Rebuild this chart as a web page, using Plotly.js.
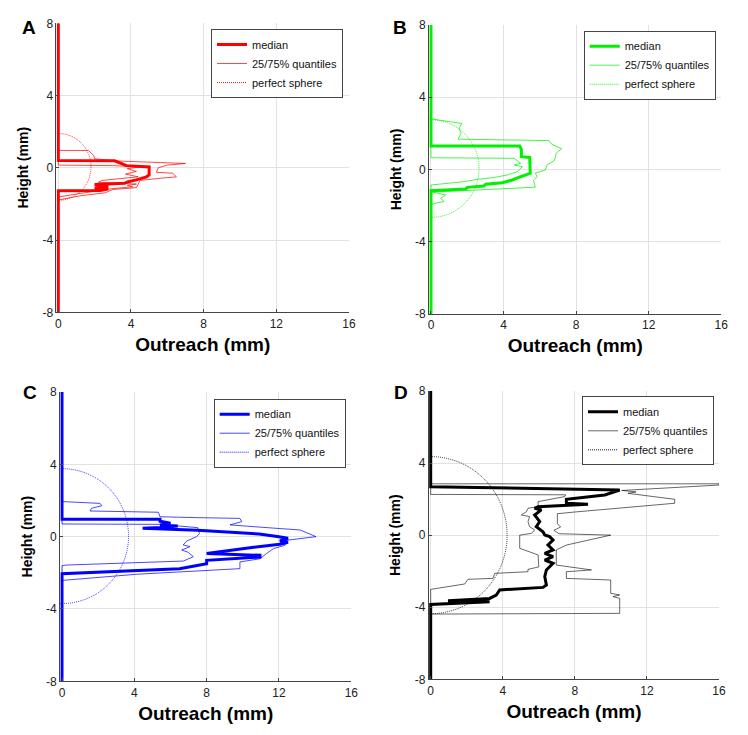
<!DOCTYPE html>
<html>
<head>
<meta charset="utf-8">
<script src="https://cdn.plot.ly/plotly-3.0.1.min.js"></script>
<style>html,body{margin:0;padding:0;background:#fff;}#chart{width:748px;height:735px;}</style>
</head>
<body>
<div id="chart"></div>
<script>
// ---------- data (outreach x, height y) ----------
const xTicks = [0, 4, 8, 12, 16];
const yTicks = [-8, -4, 0, 4, 8];
const panelLetters = ['A', 'B', 'C', 'D'];
const legendNames = ['median', '25/75% quantiles', 'perfect sphere'];

// Panel A (red)
const medA_x = [0, 0, 2.3, 2.75, 2.0, 2.75, 2.0, 3.65, 3.85, 4.3, 4.85, 5.0, 5.0, 4.75, 3.75, 3.1, 0, 0];
const medA_y = [-8, -1.27, -1.26, -1.18, -1.12, -1.05, -0.93, -0.86, -0.77, -0.67, -0.5, -0.4, 0.05, 0.06, 0.12, 0.39, 0.4, 8];
const q75A_x = [0, 0, 1.2, 2.6, 3.0, 4.3, 4.4, 4.5, 5.6, 6.5, 6.3, 5.4, 5.5, 6.0, 7.0, 5.0, 3.2, 2.6, 2.0, 1.95, 1.75, 1.65, 0, 0];
const q75A_y = [-8, -1.78, -1.55, -1.38, -1.2, -1.1, -0.9, -0.7, -0.58, -0.5, -0.3, -0.25, 0.0, 0.15, 0.24, 0.3, 0.38, 0.44, 0.5, 0.68, 0.85, 0.96, 0.96, 8];
const q25A_x = [0, 0, 1.0, 2.2, 3.0, 4.1, 3.8, 4.3, 2.2, 2.4, 3.6, 4.4, 3.7, 4.3, 3.8, 4.5, 3.0, 0, 0];
const q25A_y = [-8, -1.62, -1.45, -1.25, -1.15, -1.05, -0.97, -0.9, -0.8, -0.7, -0.6, -0.5, -0.35, -0.2, -0.05, 0.05, 0.12, 0.15, 8];

// Panel B (green)
const medB_x = [0, 0, 1.91, 2.0, 2.92, 3.01, 3.93, 4.49, 4.94, 5.47, 5.44, 4.98, 4.98, 4.89, 0, 0];
const medB_y = [-8, -1.17, -1.08, -0.99, -0.91, -0.82, -0.73, -0.58, -0.4, -0.21, 0.67, 0.71, 1.11, 1.3, 1.3, 8];
const q75B_x = [0, 0, 0.3, 0.72, 0.53, 0.8, 0.1, 5.75, 5.65, 5.85, 5.75, 6.3, 6.4, 6.8, 6.85, 6.9, 7.2, 6.95, 6.65, 6.5, 1.5, 1.65, 1.55, 1.7, 0, 0];
const q75B_y = [-8, -1.95, -1.85, -1.78, -1.6, -1.41, -1.25, -0.98, -0.6, -0.4, -0.2, -0.03, 0.25, 0.5, 0.65, 0.9, 1.15, 1.25, 1.4, 1.6, 1.68, 2.0, 2.3, 2.55, 2.8, 8];
const q25B_x = [0, 0, 1.67, 2.6, 3.5, 4.21, 4.76, 5.04, 4.58, 4.94, 4.58, 0, 0];
const q25B_y = [-8, -0.86, -0.69, -0.54, -0.44, -0.3, -0.12, 0.16, 0.25, 0.34, 0.62, 0.65, 8];

// Panel C (blue)
const medC_x = [0, 0, 6.5, 8.0, 8.0, 10.95, 10.95, 8.0, 10.5, 12.05, 12.5, 12.05, 12.5, 12.0, 10.9, 7.5, 4.46, 5.42, 6.4, 5.42, 6.0, 5.42, 5.42, 0, 0];
const medC_y = [-8, -2.05, -1.77, -1.5, -1.31, -1.13, -1.03, -0.93, -0.6, -0.42, -0.31, -0.24, -0.09, 0.0, 0.15, 0.35, 0.46, 0.5, 0.59, 0.65, 0.74, 0.85, 0.96, 0.96, 8];
const q75C_x = [0, 0, 4.13, 9.84, 9.84, 10.95, 11.3, 11.7, 12.33, 12.42, 14.05, 13.16, 12.0, 9.94, 9.29, 9.94, 9.84, 7.5, 5.42, 5.33, 1.55, 1.64, 2.2, 2.1, 0, 0];
const q75C_y = [-8, -2.42, -2.08, -1.77, -1.4, -1.22, -0.94, -0.66, -0.48, -0.2, 0.0, 0.37, 0.45, 0.59, 0.65, 0.83, 1.01, 1.05, 1.1, 1.35, 1.42, 1.57, 1.71, 1.84, 1.94, 8];
const q25C_x = [0, 0, 0.26, 6.71, 7.26, 6.99, 6.62, 7.08, 6.7, 6.9, 7.45, 7.6, 7.5, 5.4, 0, 0];
const q25C_y = [-8, -1.6, -1.57, -1.35, -1.11, -0.87, -0.74, -0.55, -0.46, -0.24, 0.0, 0.17, 0.5, 0.68, 0.7, 8];

// Panel D (black)
const medD_x = [0, 0, 3.27, 0.96, 3.27, 3.64, 3.83, 6.23, 6.42, 6.33, 6.42, 6.79, 6.33, 6.79, 6.33, 6.79, 6.51, 6.79, 6.6, 6.33, 6.23, 5.86, 6.05, 5.77, 6.14, 5.77, 5.96, 7.62, 8.73, 7.53, 7.53, 8.55, 9.66, 10.49, 0, 0];
const medD_y = [-8, -3.85, -3.69, -3.64, -3.51, -3.32, -3.04, -2.9, -2.77, -2.3, -1.93, -1.56, -1.38, -1.19, -1.01, -0.82, -0.55, -0.27, -0.08, 0.01, 0.19, 0.47, 0.75, 1.12, 1.4, 1.49, 1.58, 1.66, 1.71, 1.77, 1.99, 2.1, 2.23, 2.5, 2.69, 8];
const q75D_x = [0, 0, 10.49, 10.49, 10.12, 10.49, 9.99, 9.99, 7.53, 7.53, 8.92, 6.97, 6.97, 7.3, 7.53, 9.99, 7.12, 6.84, 7.21, 7.03, 7.03, 7.95, 13.54, 13.54, 10.95, 11.4, 10.6, 16, 16, 0, 0];
const q75D_y = [-8, -4.38, -4.34, -3.51, -3.41, -3.32, -3.23, -2.49, -2.4, -2.03, -1.93, -1.66, -0.82, -0.65, -0.55, 0.0, 0.08, 0.27, 0.45, 0.64, 1.19, 1.28, 1.77, 1.99, 2.32, 2.4, 2.48, 2.78, 2.85, 2.85, 8];
const q25D_x = [0, 0, 1.89, 2.07, 3.46, 3.55, 5.4, 5.4, 6.0, 5.96, 5.96, 4.94, 4.94, 5.6, 5.77, 5.49, 5.4, 5.49, 5.03, 5.31, 5.4, 5.96, 5.96, 7.44, 7.49, 0, 0];
const q25D_y = [-8, -3.01, -2.71, -2.45, -2.4, -2.12, -2.03, -1.9, -1.76, -1.34, -1.1, -0.73, 0.0, 0.1, 0.29, 0.47, 0.75, 1.03, 1.12, 1.3, 1.49, 1.58, 1.86, 2.14, 2.24, 2.26, 8];

// perfect sphere: centre height and radii (mm) per panel
const sphereCentre = [0.05, 0.05, 0.03, 0.0];
const sphereRx = [1.8, 2.65, 3.68, 4.24];
const sphereRy = [1.85, 2.7, 3.73, 4.36];

const panelColors = ['#ff0000', '#00f000', '#0000ff', '#000000'];

// ---------- layout geometry ----------
const FONT = 'Liberation Sans, Arial, Helvetica, sans-serif';
const W = 748, H = 735;
const boxes = [ // plot area in pixels: left (outreach 0), right, top, bottom
  [58.3, 349.0, 23.3, 312.3],
  [431.0, 721.3, 25.0, 314.0],
  [62.0, 351.3, 392.0, 681.3],
  [430.7, 719.0, 391.0, 679.3]
];
const X_PAD = 0.1; // small extension left of 0 so the thick 0-line is not cut in half
const legendBoxes = [ // right, top of legend box in px
  [343, 29], [715.7, 30.7], [345.7, 398.7], [714, 396.3]
];
const letterPos = [[29, 27.5], [400, 27.5], [29.5, 392], [400.5, 392.5]];

const med = [[medA_x, medA_y], [medB_x, medB_y], [medC_x, medC_y], [medD_x, medD_y]];
const q75 = [[q75A_x, q75A_y], [q75B_x, q75B_y], [q75C_x, q75C_y], [q75D_x, q75D_y]];
const q25 = [[q25A_x, q25A_y], [q25B_x, q25B_y], [q25C_x, q25C_y], [q25D_x, q25D_y]];

const traces = [];
const layout = {
  width: W, height: H,
  margin: {l: 0, r: 0, t: 0, b: 0},
  paper_bgcolor: '#ffffff', plot_bgcolor: '#ffffff',
  showlegend: true,
  shapes: [], annotations: [],
  font: {family: FONT, color: '#111'}
};

for (let i = 0; i < 4; i++) {
  const sfx = i === 0 ? '' : String(i + 1);
  const xa = 'x' + sfx, ya = 'y' + sfx;
  const lg = 'legend' + sfx;
  const col = panelColors[i];
  const b = boxes[i];
  const pxPerMm = (b[1] - b[0]) / 16;
  const thin = i === 3 ? 0.8 : 0.9;

  traces.push({x: q75[i][0], y: q75[i][1], xaxis: xa, yaxis: ya, type: 'scatter', mode: 'lines',
    line: {color: col, width: thin}, opacity: i === 3 ? 0.75 : 0.8, name: legendNames[1], showlegend: false, legend: lg, hoverinfo: 'skip'});
  traces.push({x: q25[i][0], y: q25[i][1], xaxis: xa, yaxis: ya, type: 'scatter', mode: 'lines',
    line: {color: col, width: thin}, opacity: i === 3 ? 0.75 : 0.8, name: legendNames[1], legend: lg, legendrank: 2, hoverinfo: 'skip'});
  traces.push({x: med[i][0], y: med[i][1], xaxis: xa, yaxis: ya, type: 'scatter', mode: 'lines',
    line: {color: col, width: 3}, name: legendNames[0], legend: lg, legendrank: 1, hoverinfo: 'skip'});
  traces.push({x: [null], y: [null], xaxis: xa, yaxis: ya, type: 'scatter', mode: 'lines',
    line: {color: col, width: 0.9, dash: '1px,1px'}, name: legendNames[2], legend: lg, legendrank: 3, hoverinfo: 'skip'});

  layout['xaxis' + sfx] = {
    domain: [(b[0] - X_PAD * pxPerMm) / W, b[1] / W], anchor: ya, range: [-X_PAD, 16],
    tickmode: 'array', tickvals: xTicks, ticktext: xTicks.map(String),
    showgrid: true, gridcolor: '#e2e2e2', gridwidth: 1, zeroline: false,
    showline: true, linecolor: '#444', linewidth: 1,
    ticks: 'inside', ticklen: 3, tickcolor: '#444',
    tickfont: {family: FONT, size: 12, color: '#222'},
    title: {text: 'Outreach (mm)', font: {family: FONT, size: 19, color: '#000', weight: 'bold'}, standoff: 7},
    fixedrange: true
  };
  layout['yaxis' + sfx] = {
    domain: [1 - b[3] / H, 1 - b[2] / H], anchor: xa, range: [-8, 8],
    tickmode: 'array', tickvals: yTicks, ticktext: yTicks.map(String),
    showgrid: true, gridcolor: '#e2e2e2', gridwidth: 1, zeroline: false,
    showline: true, linecolor: '#444', linewidth: 1,
    ticks: 'inside', ticklen: 3, tickcolor: '#444',
    tickfont: {family: FONT, size: 12, color: '#222'},
    title: {text: 'Height (mm)', font: {family: FONT, size: 14, color: '#000', weight: 'bold'}, standoff: 10},
    fixedrange: true
  };
  layout[lg] = {
    x: legendBoxes[i][0] / W, xanchor: 'right', xref: 'paper',
    y: 1 - legendBoxes[i][1] / H, yanchor: 'top', yref: 'paper',
    bgcolor: '#ffffff', bordercolor: '#444', borderwidth: 1,
    font: {family: FONT, size: 11, color: '#111'},
    tracegroupgap: 0, itemclick: false, itemdoubleclick: false
  };
  // perfect sphere outline (clipped to the plot area at outreach 0)
  layout.shapes.push({type: 'circle', xref: xa, yref: ya,
    x0: -sphereRx[i], x1: sphereRx[i],
    y0: sphereCentre[i] - sphereRy[i], y1: sphereCentre[i] + sphereRy[i],
    line: {color: col, width: 0.8, dash: '1px,1px'}, layer: 'above'});
  layout.annotations.push({text: panelLetters[i], xref: 'paper', yref: 'paper',
    x: letterPos[i][0] / W, y: 1 - letterPos[i][1] / H, xanchor: 'center', yanchor: 'middle',
    showarrow: false, font: {family: FONT, size: 19, color: '#000', weight: 'bold'}});
}

Plotly.newPlot('chart', traces, layout, {staticPlot: true, displayModeBar: false});
</script>
</body>
</html>
